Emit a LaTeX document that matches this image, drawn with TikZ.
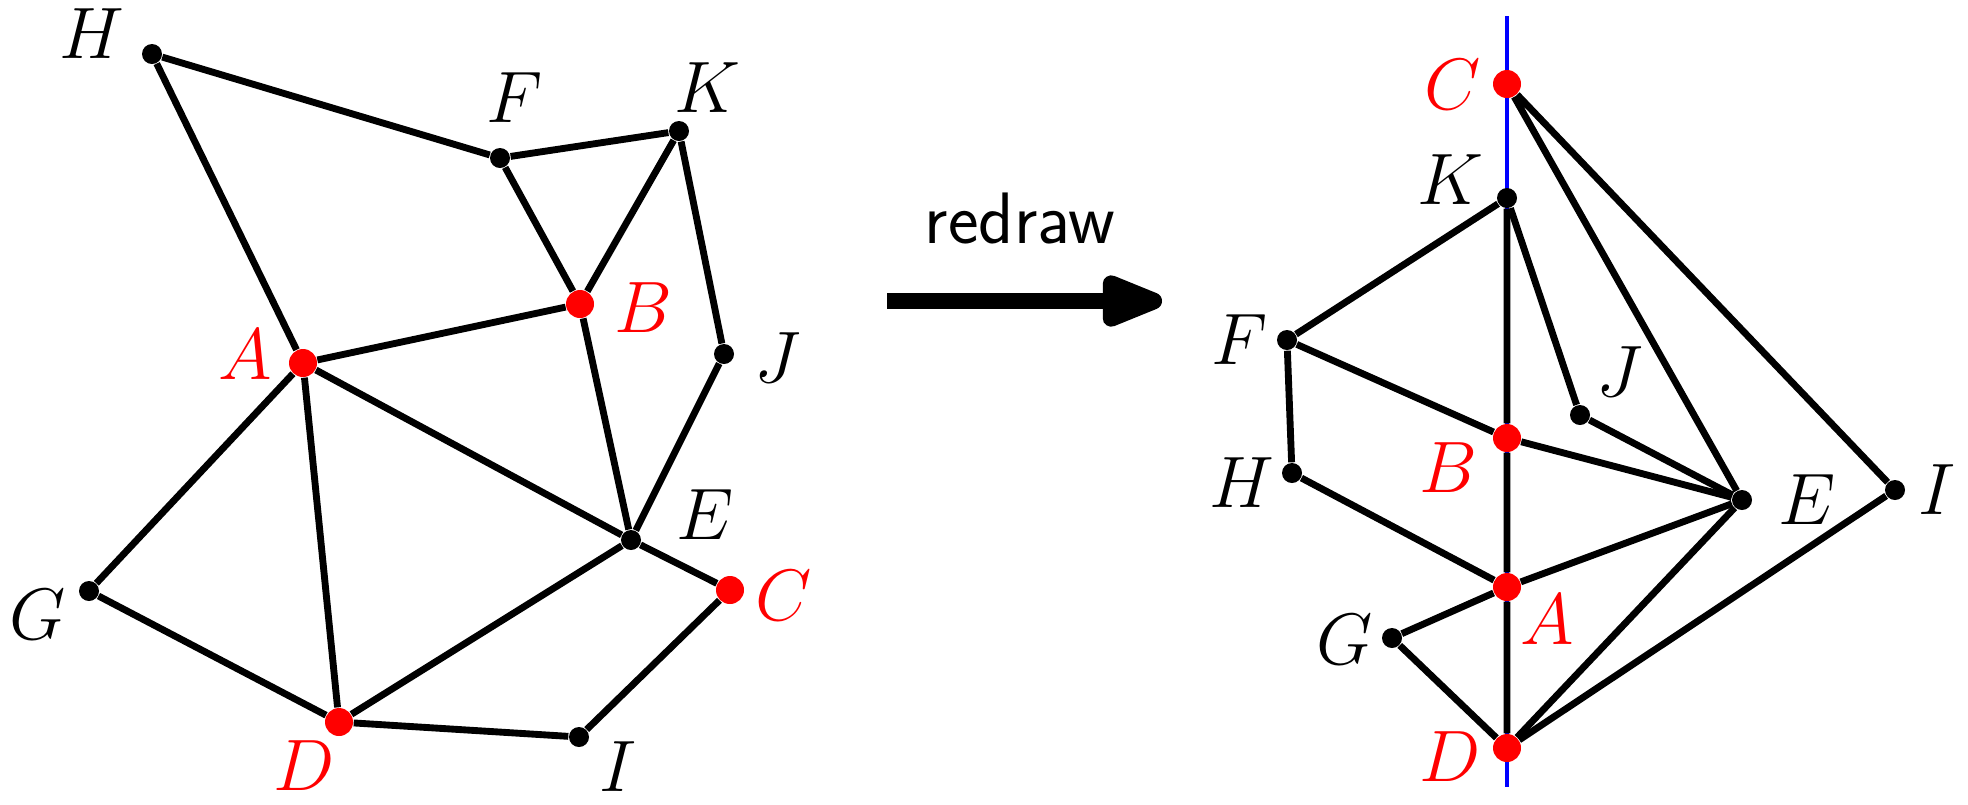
\documentclass[tikz,border=0pt]{standalone}
\usetikzlibrary{arrows.meta,backgrounds,calc}
\tikzset{
  vtx/.style={circle,fill=black,inner sep=0pt,minimum size=0.2cm},
  rvtx/.style={circle,fill=red,inner sep=0pt,minimum size=0.28cm},
  lbl/.style={font=\huge,inner sep=1pt},
  rlbl/.style={font=\huge,text=red,inner sep=1pt},
  edge/.style={line width=1.95pt},
}
\begin{document}
\begin{tikzpicture}
    \useasboundingbox (0,0) rectangle (19.68,-8.04);

    % original graph
    \node[vtx]  (H) at (1.52,-0.54) {};
    \node[vtx]  (F) at (5.00,-1.58) {};
    \node[vtx]  (K) at (6.79,-1.31) {};
    \node[rvtx] (B) at (5.80,-3.04) {};
    \node[rvtx] (A) at (3.03,-3.63) {};
    \node[vtx]  (J) at (7.24,-3.54) {};
    \node[vtx]  (E) at (6.31,-5.40) {};
    \node[vtx]  (G) at (0.89,-5.91) {};
    \node[rvtx] (C) at (7.30,-5.90) {};
    \node[rvtx] (D) at (3.39,-7.22) {};
    \node[vtx]  (I) at (5.79,-7.37) {};

    \node[lbl]  (lH) at ($(H)+(-0.60,0.20)$) {$H$};
    \node[lbl]  (lF) at ($(F)+(0.15,0.60)$)  {$F$};
    \node[lbl]  (lK) at ($(K)+(0.28,0.43)$)  {$K$};
    \node[rlbl] (lB) at ($(B)+(0.63,-0.04)$) {$B$};
    \node[rlbl] (lA) at ($(A)+(-0.58,0.08)$) {$A$};
    \node[lbl]  (lJ) at ($(J)+(0.54,-0.04)$) {$J$};
    \node[lbl]  (lE) at ($(E)+(0.74,0.25)$)  {$E$};
    \node[lbl]  (lG) at ($(G)+(-0.51,-0.24)$) {$G$};
    \node[rlbl] (lC) at ($(C)+(0.54,-0.06)$) {$C$};
    \node[rlbl] (lD) at ($(D)+(-0.35,-0.44)$) {$D$};
    \node[lbl]  (lI) at ($(I)+(0.39,-0.30)$) {$I$};

    % redrawn graph
    \coordinate (top) at (15.07,-0.16);
    \coordinate (bot) at (15.07,-7.87);
    \node[rvtx] (C2) at (15.07,-0.84) {};
    \node[vtx]  (K2) at (15.07,-1.98) {};
    \node[vtx]  (F2) at (12.87,-3.40) {};
    \node[vtx]  (J2) at (15.80,-4.15) {};
    \node[rvtx] (B2) at (15.07,-4.38) {};
    \node[vtx]  (H2) at (12.92,-4.73) {};
    \node[vtx]  (E2) at (17.42,-5.00) {};
    \node[vtx]  (I2) at (18.95,-4.90) {};
    \node[rvtx] (A2) at (15.07,-5.87) {};
    \node[vtx]  (G2) at (13.92,-6.38) {};
    \node[rvtx] (D2) at (15.07,-7.48) {};

    \node[rlbl] (lC2) at ($(C2)+(-0.54,-0.01)$) {$C$};
    \node[lbl]  (lK2) at ($(K2)+(-0.57,0.18)$)  {$K$};
    \node[lbl]  (lF2) at ($(F2)+(-0.47,0)$)     {$F$};
    \node[lbl]  (lJ2) at ($(J2)+(0.40,0.43)$)   {$J$};
    \node[rlbl] (lB2) at ($(B2)+(-0.59,-0.30)$) {$B$};
    \node[lbl]  (lH2) at ($(H2)+(-0.50,-0.10)$) {$H$};
    \node[lbl]  (lE2) at ($(E2)+(0.65,0)$)      {$E$};
    \node[lbl]  (lI2) at ($(I2)+(0.42,0)$)      {$I$};
    \node[rlbl] (lA2) at ($(A2)+(0.40,-0.33)$)  {$A$};
    \node[lbl]  (lG2) at ($(G2)+(-0.47,-0.02)$) {$G$};
    \node[rlbl] (lD2) at ($(D2)+(-0.57,-0.09)$) {$D$};

    \begin{scope}[on background layer]
      \draw[blue,line width=1pt] (top) -- (bot);
      \draw[edge] (H) -- (F) -- (K) -- (J) -- (E) -- (C) -- (I) -- (D) -- (G) -- (A) -- (H);
      \draw[edge] (F) -- (B) -- (K);
      \draw[edge] (A) -- (B) -- (E) -- (A);
      \draw[edge] (A) -- (D) -- (E);
      \draw[edge] (H2) -- (F2) -- (K2) -- (J2) -- (E2) -- (C2) -- (I2) -- (D2) -- (G2) -- (A2) -- (H2);
      \draw[edge] (F2) -- (B2) -- (K2);
      \draw[edge] (A2) -- (B2) -- (E2) -- (A2);
      \draw[edge] (A2) -- (D2) -- (E2);
    \end{scope}

    % arrow
    \coordinate (arrS) at (8.87,-3.01);
    \coordinate (arrE) at (11.62,-3.01);
    \draw[line width=4.8pt,-{Triangle[round,length=0.76cm,width=0.54cm]}] (arrS) -- (arrE);
    \node[font=\huge\sffamily,anchor=base] (redraw) at (10.20,-2.43) {redraw};

\end{tikzpicture}
\end{document}
